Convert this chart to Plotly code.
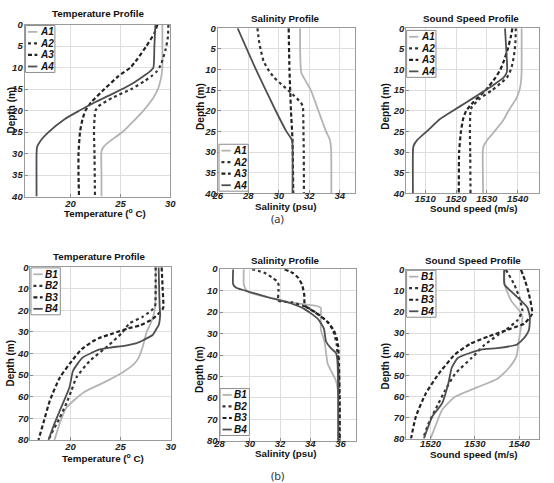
import plotly.graph_objects as go

W, H = 554, 483

# ---------------- (a) top row : depth 0-40 m ----------------
A1_T_depth = [0, 5, 10, 12, 14, 15, 17, 20, 22, 25, 27, 28.5, 29.5, 35, 40]
A1_T = [29.2, 29.2, 29.2, 29.1, 28.9, 28.75, 28.3, 27.3, 26.5, 25.2, 24.0, 23.3, 23.1, 23.1, 23.1]
A2_T_depth = [0, 3, 6, 9, 10, 11, 12, 13, 15, 17, 19, 20, 22, 25, 30, 40]
A2_T = [29.8, 29.75, 29.5, 29.1, 28.9, 28.6, 28.1, 27.5, 26.1, 24.2, 22.8, 22.5, 22.4, 22.35, 22.4, 22.45]
A3_T_depth = [0, 2, 5, 8, 10, 12, 15, 18, 20, 22, 25, 30, 35, 40]
A3_T = [28.7, 28.4, 27.6, 26.7, 26.0, 24.8, 23.4, 22.1, 21.5, 21.2, 20.95, 20.8, 20.8, 20.85]
A4_T_depth = [0, 5, 10, 11, 12, 14, 16, 18, 20, 22, 25, 27, 28.5, 30, 40]
A4_T = [28.5, 28.4, 28.3, 27.9, 27.3, 26.0, 24.3, 22.5, 20.9, 19.4, 17.8, 17.0, 16.65, 16.6, 16.6]

A1_S_depth = [0, 5, 10, 11, 13, 15, 20, 25, 27, 29, 40]
A1_S = [31.4, 31.4, 31.45, 31.5, 31.8, 32.1, 32.6, 33.1, 33.35, 33.43, 33.45]
A2_S_depth = [0, 3, 5, 8, 10, 12, 14, 16, 18, 19, 20, 25, 30, 40]
A2_S = [28.6, 28.7, 28.8, 29.0, 29.3, 29.7, 30.3, 30.9, 31.45, 31.58, 31.6, 31.62, 31.64, 31.65]
A3_S_depth = [0, 10, 15, 20, 27, 40]
A3_S = [30.65, 30.7, 30.75, 30.8, 30.9, 30.95]
A4_S_depth = [0, 10, 20, 25, 27, 28, 40]
A4_S = [27.3, 28.5, 29.8, 30.5, 30.85, 30.9, 30.9]

A1_C_depth = [0, 5, 10, 12, 14, 15, 17, 20, 22, 25, 27, 28.5, 29.5, 35, 40]
A1_C = [1541.3, 1541.3, 1541.3, 1541.2, 1540.9, 1540.6, 1539.6, 1537.0, 1535.6, 1532.5, 1530.2, 1529.0, 1528.7, 1528.7, 1528.8]
A2_C_depth = [0, 3, 5, 8, 10, 12, 13, 15, 17, 19, 20, 25, 30, 40]
A2_C = [1539.4, 1539.3, 1539.1, 1538.5, 1537.8, 1536.5, 1535.0, 1531.7, 1527.8, 1525.2, 1524.7, 1524.5, 1524.6, 1524.7]
A3_C_depth = [0, 2, 5, 8, 10, 12, 15, 18, 20, 22, 25, 30, 40]
A3_C = [1538.3, 1537.8, 1536.8, 1535.5, 1534.4, 1532.8, 1529.6, 1525.5, 1523.3, 1522.3, 1521.6, 1521.0, 1520.9]
A4_C_depth = [0, 5, 10, 11, 12, 14, 16, 18, 20, 22, 25, 27, 28.5, 30, 40]
A4_C = [1535.9, 1536.3, 1536.6, 1536.3, 1535.4, 1531.7, 1527.5, 1523.3, 1519.0, 1514.8, 1510.5, 1507.5, 1506.2, 1506.0, 1506.0]

# ---------------- (b) bottom row : depth 0-80 m ----------------
B1_T_depth = [0, 10, 18, 22, 26, 30, 37, 42, 45, 49, 53, 58, 65, 72, 80]
B1_T = [28.5, 28.5, 28.45, 28.3, 28.0, 27.6, 27.2, 26.8, 26.3, 25.1, 23.5, 21.3, 19.6, 18.95, 18.4]
B2_T_depth = [0, 10, 18, 19.5, 21, 23, 26, 30.6, 36, 43.5, 51, 57, 63, 70, 78, 80]
B2_T = [28.5, 28.5, 28.45, 28.2, 27.8, 27.2, 25.9, 25.1, 23.85, 21.9, 20.6, 20.1, 19.6, 18.9, 18.0, 17.85]
B3_T_depth = [0, 10, 19, 21, 24, 27, 28.4, 30.6, 32.9, 34.4, 38, 42.7, 51, 61.6, 72, 80]
B3_T = [29.1, 29.2, 29.25, 28.9, 28.2, 26.9, 25.7, 24.3, 22.8, 22.2, 21.1, 20.25, 18.95, 17.95, 17.3, 16.8]
B4_T_depth = [0, 10, 18, 22, 26.9, 28.4, 31.4, 33.7, 35.2, 36.3, 37.2, 38.0, 39.7, 41.9, 48, 55.6, 64.6, 73.6, 80]
B4_T = [28.8, 28.85, 28.9, 28.95, 28.8, 28.6, 28.2, 27.3, 26.6, 25.5, 24.0, 23.0, 22.1, 21.2, 20.25, 19.9, 19.1, 18.3, 17.8]

B1_S_depth = [0, 7, 9, 10.5, 12, 14, 15.5, 17, 18, 22, 28, 34, 44, 47, 52, 58, 80]
B1_S = [29.6, 29.6, 29.7, 29.9, 30.5, 31.8, 32.7, 34.3, 34.7, 34.7, 34.7, 34.95, 35.15, 35.35, 35.7, 35.85, 35.85]
B2_S_depth = [0, 1.8, 4, 5.6, 7.1, 10, 14.7, 15.5, 17.8, 20.8, 24.6, 28.4, 35, 45, 60, 80]
B2_S = [30.15, 31.0, 31.5, 31.8, 31.9, 31.9, 31.9, 32.8, 33.8, 34.5, 35.15, 35.5, 35.75, 35.85, 35.9, 35.9]
B3_S_depth = [0, 1.8, 4, 7.1, 11.7, 17, 20, 24.6, 28.4, 32, 36, 45, 60, 80]
B3_S = [32.3, 32.85, 33.2, 33.45, 33.6, 33.65, 34.3, 35.15, 35.55, 35.75, 35.85, 35.9, 35.95, 35.95]
B4_S_depth = [0, 7.1, 8.7, 11, 13.2, 16, 18.5, 23.1, 27.6, 33.7, 36.7, 39, 42.8, 60, 80]
B4_S = [28.9, 28.9, 29.1, 30.2, 31.25, 32.75, 33.6, 34.5, 34.9, 35.05, 35.35, 35.7, 35.8, 35.85, 35.85]

B1_C_depth = [0, 7, 14.7, 19.3, 22.3, 28.4, 35, 40.9, 44.8, 48, 51.7, 55.6, 60.2, 66.4, 74.1, 80]
B1_C = [1536.7, 1536.7, 1538.2, 1540.0, 1540.7, 1540.3, 1539.8, 1539.4, 1538.3, 1537.0, 1535.0, 1530.6, 1525.5, 1522.6, 1521.1, 1520.0]
B2_C_depth = [0, 7, 13.1, 19.3, 23.9, 28.4, 30.9, 35.5, 41.7, 49.4, 57.1, 63.3, 72.6, 80]
B2_C = [1537.0, 1538.9, 1540.0, 1540.7, 1539.6, 1537.0, 1535.2, 1532.2, 1529.3, 1525.5, 1523.3, 1521.8, 1519.6, 1518.3]
B3_C_depth = [0, 5, 11.6, 20.8, 25.5, 27.8, 31.6, 35, 40.1, 49.4, 58.7, 69.5, 80]
B3_C = [1540.4, 1541.3, 1542.2, 1542.9, 1541.1, 1538.2, 1533.0, 1529.0, 1525.5, 1521.8, 1518.9, 1516.7, 1515.6]
B4_C_depth = [0, 7, 11.6, 17.7, 22.3, 28.4, 30.9, 33, 35.5, 37.1, 37.8, 41.7, 46.3, 54, 63.3, 69.5, 80]
B4_C = [1536.6, 1536.7, 1538.9, 1541.8, 1542.4, 1542.2, 1541.6, 1540.8, 1539.4, 1535.0, 1531.4, 1526.2, 1524.8, 1524.0, 1522.6, 1520.4, 1518.5]

TOP_NAMES = ["A1", "A2", "A3", "A4"]
BOT_NAMES = ["B1", "B2", "B3", "B4"]
TOP_DEPTH_TICKS = [0, 5, 10, 15, 20, 25, 30, 35, 40]
BOT_DEPTH_TICKS = [0, 10, 20, 30, 40, 50, 60, 70, 80]
TEMP_TICKS = [20, 25, 30]
SAL_TICKS_A = [26, 28, 30, 32, 34]
SAL_TICKS_B = [28, 30, 32, 34, 36]
SS_TICKS = [1510, 1520, 1530, 1540]
SS_TICKS_B = [1520, 1530, 1540]

STYLES = [
    dict(color="#b4b4b4", width=1.8, dash="solid"),
    dict(color="#333333", width=2.2, dash="dot"),
    dict(color="#222222", width=2.2, dash="4px,2.5px"),
    dict(color="#4f4f4f", width=1.8, dash="solid"),
]

FONT = "Liberation Sans, Arial, sans-serif"


def fx(p):
    return p / W


def fy(p):
    return 1 - p / H


panels = [
    dict(series=[(A1_T, A1_T_depth), (A2_T, A2_T_depth), (A3_T, A3_T_depth), (A4_T, A4_T_depth)],
         names=TOP_NAMES, box=(19, 168, 19, 195), xr=[15.4, 30], xt=TEMP_TICKS, ymax=40, yt=TOP_DEPTH_TICKS,
         so=-2, title="Temperature Profile", tp=(94.5, 7.5), xtitle="Temperature (<sup>o</sup> C)",
         xtp=(100.8, 212), ytp=(6, 106), leg=(20, 20)),
    dict(series=[(A1_S, A1_S_depth), (A2_S, A2_S_depth), (A3_S, A3_S_depth), (A4_S, A4_S_depth)],
         names=TOP_NAMES, box=(216.5, 356.7, 22.7, 191.7), xr=[26, 35], xt=SAL_TICKS_A, ymax=40, yt=TOP_DEPTH_TICKS,
         so=-7, title="Salinity Profile", tp=(285.8, 12.7), xtitle="Salinity (psu)",
         xtp=(286.7, 205), ytp=(198, 102.5), leg=(217.7, 141.5)),
    dict(series=[(A1_C, A1_C_depth), (A2_C, A2_C_depth), (A3_C, A3_C_depth), (A4_C, A4_C_depth)],
         names=TOP_NAMES, box=(409, 545, 22.7, 191.7), xr=[1503.8, 1547], xt=SS_TICKS, ymax=40, yt=TOP_DEPTH_TICKS,
         so=-4, title="Sound Speed Profile", tp=(475, 12.7), xtitle="Sound speed (m/s)",
         xtp=(478.3, 207), ytp=(388, 102.5), leg=(409.5, 25)),
    dict(series=[(B1_T, B1_T_depth), (B2_T, B2_T_depth), (B3_T, B3_T_depth), (B4_T, B4_T_depth)],
         names=BOT_NAMES, box=(25, 168.3, 267.3, 444), xr=[16, 30], xt=TEMP_TICKS, ymax=80, yt=BOT_DEPTH_TICKS,
         so=-2, title="Temperature Profile", tp=(95, 256), xtitle="Temperature (<sup>o</sup> C)",
         xtp=(99.2, 462.7), ytp=(5, 365), leg=(25.5, 268)),
    dict(series=[(B1_S, B1_S_depth), (B2_S, B2_S_depth), (B3_S, B3_S_depth), (B4_S, B4_S_depth)],
         names=BOT_NAMES, box=(218.3, 357.3, 269.3, 445), xr=[28, 37], xt=SAL_TICKS_B, ymax=80, yt=BOT_DEPTH_TICKS,
         so=-6, title="Salinity Profile", tp=(285.5, 260), xtitle="Salinity (psu)",
         xtp=(286.7, 457.5), ytp=(198, 371.7), leg=(218.8, 391.5)),
    dict(series=[(B1_C, B1_C_depth), (B2_C, B2_C_depth), (B3_C, B3_C_depth), (B4_C, B4_C_depth)],
         names=BOT_NAMES, box=(409, 545, 270, 442.7), xr=[1514.5, 1544.5], xt=SS_TICKS_B, ymax=80, yt=BOT_DEPTH_TICKS,
         so=-4, title="Sound Speed Profile", tp=(477, 260.7), xtitle="Sound speed (m/s)",
         xtp=(478.3, 459), ytp=(388, 368.3), leg=(409.5, 270.5)),
]

fig = go.Figure()
annotations = []
shapes = []

tickfont = dict(family=FONT, size=9.5, color="#222222", weight="bold", style="italic")

for i, p in enumerate(panels, start=1):
    suffix = "" if i == 1 else str(i)
    for (xs, ys), name, st in zip(p["series"], p["names"], STYLES):
        fig.add_trace(go.Scatter(
            x=xs, y=ys, mode="lines", name=name, showlegend=False,
            line=dict(color=st["color"], width=st["width"], dash=st["dash"], shape="spline", smoothing=0.5),
            xaxis="x" + suffix, yaxis="y" + suffix,
        ))
    x0, x1, yt, yb = p["box"]
    common = dict(showgrid=True, gridcolor="#dedede", gridwidth=1, showline=True, mirror=True,
                  linecolor="#9a9a9a", linewidth=1, ticks="inside", ticklen=3, tickcolor="#888888",
                  zeroline=False, tickfont=tickfont)
    fig.update_layout(**{
        "xaxis" + suffix: dict(domain=[fx(x0), fx(x1)], range=p["xr"], tickvals=p["xt"],
                               anchor="y" + suffix, ticklabelstandoff=p["so"], **common),
        "yaxis" + suffix: dict(domain=[fy(yb), fy(yt)], range=[p["ymax"], 0], tickvals=p["yt"],
                               anchor="x" + suffix, ticklabelstandoff=-1, **common),
    })
    annotations.append(dict(text=p["title"], x=fx(p["tp"][0]), y=fy(p["tp"][1]), xref="paper", yref="paper",
                            showarrow=False, xanchor="center", yanchor="middle",
                            font=dict(family=FONT, size=9.8, color="#111111", weight="bold")))
    annotations.append(dict(text=p["xtitle"], x=fx(p["xtp"][0]), y=fy(p["xtp"][1]), xref="paper", yref="paper",
                            showarrow=False, xanchor="center", yanchor="middle",
                            font=dict(family=FONT, size=9.8, color="#111111", weight="bold")))
    annotations.append(dict(text="Depth (m)", x=fx(p["ytp"][0]), y=fy(p["ytp"][1]), xref="paper", yref="paper",
                            showarrow=False, xanchor="center", yanchor="middle", textangle=-90,
                            font=dict(family=FONT, size=10, color="#111111", weight="bold")))
    # legend box (drawn)
    lx, ly = p["leg"]
    lw, lh = 30, 48
    shapes.append(dict(type="rect", xref="paper", yref="paper", x0=fx(lx), x1=fx(lx + lw), y0=fy(ly + lh), y1=fy(ly),
                       line=dict(color="#8c8c8c", width=1), fillcolor="white", layer="above"))
    for k, (name, st) in enumerate(zip(p["names"], STYLES)):
        yy = ly + 6.5 + k * 11.8
        shapes.append(dict(type="line", xref="paper", yref="paper", x0=fx(lx + 2.5), x1=fx(lx + 12), y0=fy(yy), y1=fy(yy),
                           line=dict(color=st["color"], width=st["width"], dash=st["dash"]), layer="above"))
        annotations.append(dict(text=name, x=fx(lx + 12.5), y=fy(yy), xref="paper", yref="paper", showarrow=False,
                                xanchor="left", yanchor="middle",
                                font=dict(family=FONT, size=10, color="#111111", weight="bold", style="italic")))

annotations.append(dict(text="(a)", x=fx(277), y=fy(217), xref="paper", yref="paper", showarrow=False,
                        xanchor="center", yanchor="middle", font=dict(family="Noto Sans, sans-serif", size=11, color="#333333")))
annotations.append(dict(text="(b)", x=fx(277), y=fy(480), xref="paper", yref="paper", showarrow=False,
                        xanchor="center", yanchor="middle", font=dict(family="Noto Sans, sans-serif", size=11, color="#333333")))

fig.update_layout(
    width=W, height=H, margin=dict(l=0, r=0, t=0, b=0),
    paper_bgcolor="white", plot_bgcolor="white",
    showlegend=False, annotations=annotations, shapes=shapes,
)

fig.write_html("out.html")
